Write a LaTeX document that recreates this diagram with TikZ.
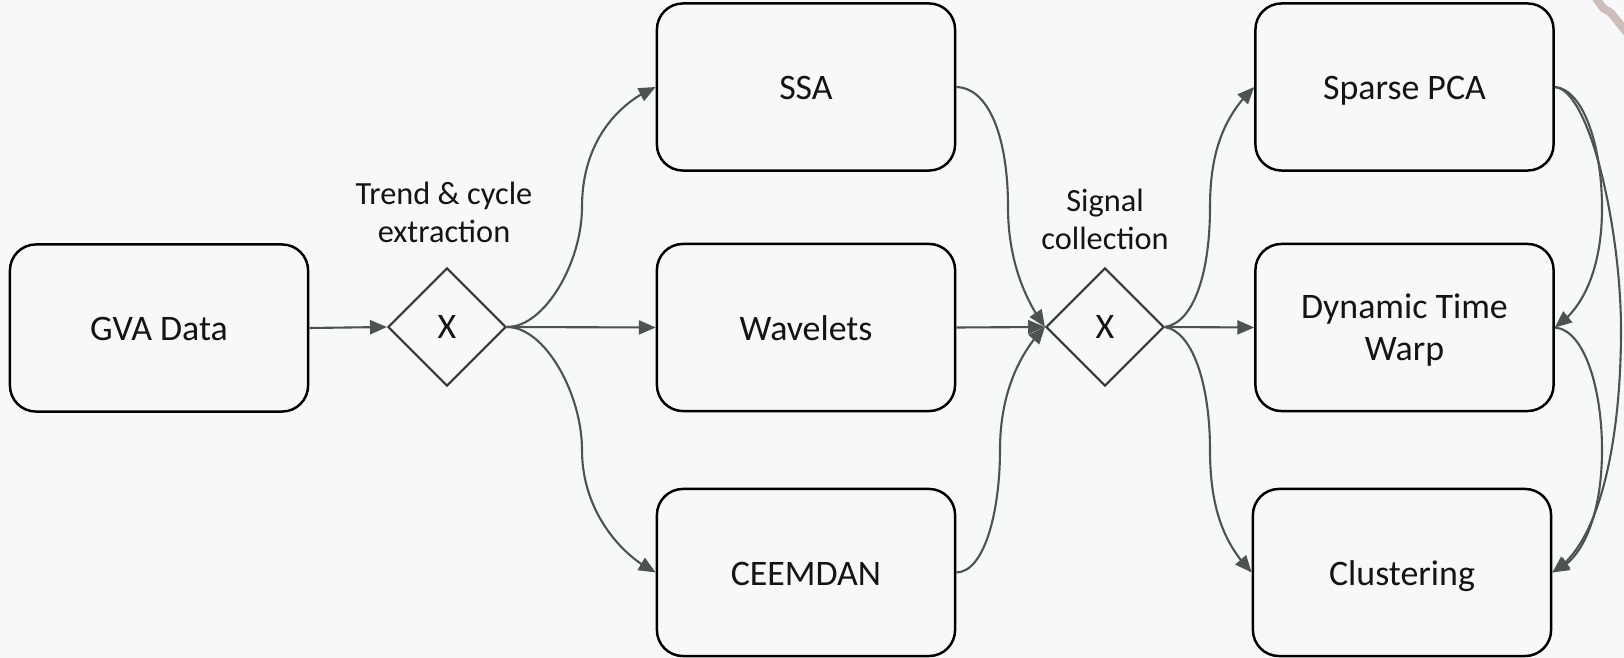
\documentclass[tikz,border=0pt]{standalone}
\usepackage{fontspec}
\setmainfont{Carlito}
\usetikzlibrary{arrows.meta,bending,shapes.geometric}
\definecolor{paper}{HTML}{F7F8FA}
\definecolor{wire}{HTML}{4D5353}
\definecolor{ink}{HTML}{141414}
\definecolor{smudge}{RGB}{205,190,188}

\begin{document}
\begin{tikzpicture}[x=0.01cm,y=-0.01cm,
  stage/.style={draw=black, line width=0.7pt, rounded corners=0.26cm, fill=paper,
    minimum width=2.98cm, minimum height=1.67cm, inner sep=0pt, align=center,
    font=\fontsize{10.2}{12.2}\selectfont, text=ink,
    text height=7.35pt, text depth=0pt},
  twoline/.style={text height=19pt, text depth=0pt},
  gate/.style={diamond, draw=black!78, line width=0.6pt, fill=paper,
    minimum width=1.18cm, minimum height=1.18cm, inner sep=0pt,
    font=\fontsize{10.2}{12}\selectfont, text=ink},
  note/.style={align=center, inner sep=0pt, font=\fontsize{9.2}{10.8}\selectfont, text=ink},
  flow/.style={draw=wire, line width=0.6pt, -{Triangle[length=4.8pt,width=4pt]}},
]
% canvas
\fill[paper] (0,0) rectangle (1624,658);
\useasboundingbox (0,0) rectangle (1624,658);

% stray mark in the upper right corner
\draw[smudge, line width=2.3pt, line cap=butt] (1596,-2) -- (1603,8) -- (1611,13) -- (1628,34);

% input
\node[stage] (gva) at (159,328) {GVA Data};

% first gateway
\node[gate] (d1) at (447,327) {X};
\node[note] (d1lbl) at (444,212) {Trend \& cycle\\extraction};

% decomposition methods
\node[stage] (ssa) at (806,87) {SSA};
\node[stage] (wav) at (806,327.5) {Wavelets};
\node[stage] (cee) at (806,572.5) {CEEMDAN};

% second gateway
\node[gate] (d2) at (1105,327) {X};
\node[note] (d2lbl) at (1105,219) {Signal\\collection};

% analysis steps
\node[stage] (spca) at (1404.5,87) {Sparse PCA};
\node[stage, twoline] (dtw) at (1404.5,327.5) {Dynamic Time\\Warp};
\node[stage] (clus) at (1402,572.5) {Clustering};

% input to first gateway
\draw[flow] (gva.east) -- (d1.west);

% first gateway fans out
\draw[flow] (d1.east) .. controls (545,327) and (582,262) .. (582,207)
  .. controls (582,140) and (620,102) .. (ssa.west);
\draw[flow] (d1.east) -- (wav.west);
\draw[flow] (d1.east) .. controls (545,327) and (582,394) .. (582,450)
  .. controls (582,510) and (620,555) .. (cee.west);

% methods merge into second gateway
\draw[flow] (ssa.east) .. controls (990,88) and (1008,140) .. (1008,207)
  .. controls (1008,260) and (1025,300) .. (d2.west);
\draw[flow] (wav.east) -- (d2.west);
\draw[flow] (cee.east) .. controls (985,572) and (1000,510) .. (1000,450)
  .. controls (1000,390) and (1022,350) .. (d2.west);

% second gateway fans out
\draw[flow] (d2.east) .. controls (1195,322) and (1210,270) .. (1210,207)
  .. controls (1210,150) and (1225,115) .. (spca.west);
\draw[flow] (d2.east) -- (dtw.west);
\draw[flow] (d2.east) .. controls (1195,333) and (1210,390) .. (1210,450)
  .. controls (1210,510) and (1225,545) .. (clus.west);

% links between analysis steps
\draw[flow] (spca.east) .. controls (1585,90) and (1602,150) .. (1602,208)
  .. controls (1602,270) and (1582,310) .. (dtw.east);
\draw[flow] (spca.east) .. controls (1590,90) and (1621,230) .. (1621,330)
  .. controls (1621,440) and (1600,545) .. (clus.east);
\draw[flow] (dtw.east) .. controls (1585,330) and (1602,390) .. (1602,450)
  .. controls (1602,510) and (1585,560) .. (clus.east);
\end{tikzpicture}
\end{document}
